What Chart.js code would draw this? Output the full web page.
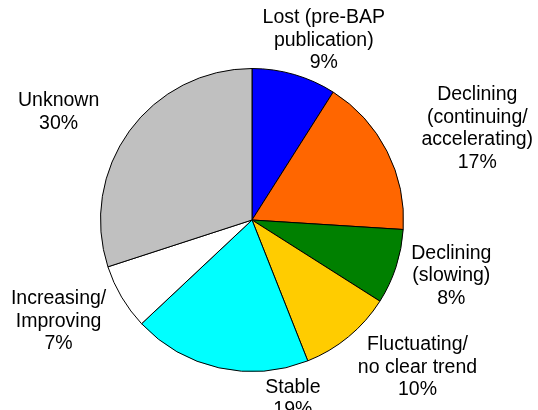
<!DOCTYPE html>
<html>
<head>
<meta charset="utf-8">
<script src="https://cdn.jsdelivr.net/npm/chart.js@4/dist/chart.umd.min.js"></script>
<style>
    html, body { margin: 0; padding: 0; background: #fff; }
    #wrap { width: 538px; height: 410px; }
</style>
</head>
<body>
<div id="wrap"><canvas id="status-pie" width="538" height="410"></canvas></div>
<script>
// chart data (percent of species, clockwise from 12 o'clock)
const categories = [
    ['Lost (pre-BAP', 'publication)'],
    ['Declining', '(continuing/', 'accelerating)'],
    ['Declining', '(slowing)'],
    ['Fluctuating/', 'no clear trend'],
    ['Stable'],
    ['Increasing/', 'Improving'],
    ['Unknown']
];
const percentages = [9, 17, 8, 10, 19, 7, 30];
const sliceColors = ['#0000ff', '#ff6600', '#008000', '#ffcc00', '#00ffff', '#ffffff', '#c0c0c0'];

// label placement: [angle nudge in degrees, distance from centre in radii]
const labelPlacement = [[5.6, 1.276], [4.9, 1.605], [-2.4, 1.366], [-8.7, 1.463],
                        [-25.5, 1.208], [2.9, 1.442], [-6.9, 1.461]];

const outsideLabels = {
    id: 'outsideLabels',
    afterDatasetsDraw: (chart) => {
        const ctx = chart.ctx;
        const arcs = chart.getDatasetMeta(0).data;
        const lineHeight = 22.5;
        ctx.save();
        ctx.font = '19.5px "Liberation Sans", Arial, sans-serif';
        ctx.fillStyle = '#000';
        ctx.textAlign = 'center';
        ctx.textBaseline = 'middle';
        arcs.forEach((arc, i) => {
            const p = arc.getProps(['x', 'y', 'startAngle', 'endAngle', 'outerRadius'], true);
            const mid = (p.startAngle + p.endAngle) / 2 + labelPlacement[i][0] * Math.PI / 180;
            const dist = p.outerRadius * labelPlacement[i][1];
            const cx = p.x + Math.cos(mid) * dist;
            const cy = p.y + Math.sin(mid) * dist;
            const lines = categories[i].concat([percentages[i] + '%']);
            const top = cy - (lines.length - 1) * lineHeight / 2;
            lines.forEach((line, j) => {
                ctx.fillText(line, cx, top + j * lineHeight);
            });
        });
        ctx.restore();
    }
};

const ctx = document.getElementById('status-pie').getContext('2d');

const statusChart = new Chart(ctx, {
    type: 'pie',
    data: {
        labels: categories.map(c => c.join(' ')),
        datasets: [{
            data: percentages,
            backgroundColor: sliceColors,
            borderColor: '#000000',
            borderWidth: 1
        }]
    },
    options: {
        responsive: false,
        animation: false,
        layout: {
            padding: { top: 68, bottom: 38, left: 100, right: 134 }
        },
        plugins: {
            legend: { display: false },
            tooltip: { enabled: false }
        }
    },
    plugins: [outsideLabels]
});
</script>
</body>
</html>
